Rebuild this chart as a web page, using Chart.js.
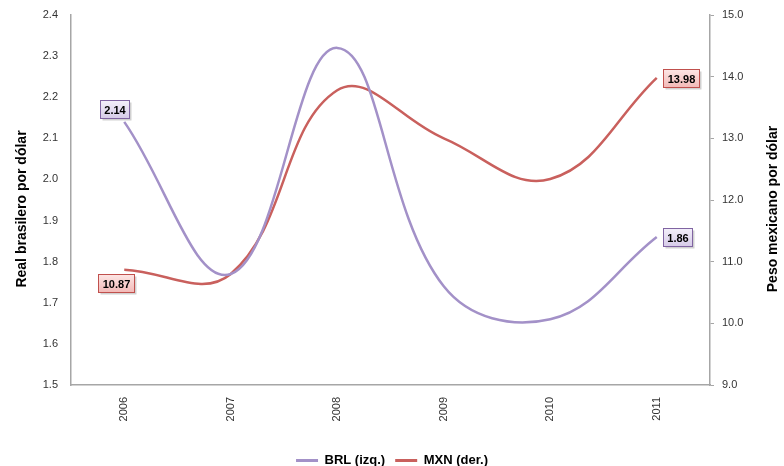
<!DOCTYPE html>
<html>
<head>
<meta charset="utf-8">
<script src="https://cdn.jsdelivr.net/npm/chart.js@4.4.1/dist/chart.umd.min.js"></script>
<style>
  html, body { margin: 0; padding: 0; background: #fff; }
  #wrap { width: 784px; height: 466px; }
</style>
</head>
<body>
<div id="wrap"><canvas id="chart" width="784" height="466"></canvas></div>
<script>
// Data
const years = ['2006', '2007', '2008', '2009', '2010', '2011'];
const brl = [2.14, 1.77, 2.32, 1.74, 1.66, 1.86];
const mxn = [10.87, 10.80, 13.78, 13.00, 12.34, 13.98];
// which points carry a value box, and where it sits
const brlLabelPos = ['above', null, null, null, null, 'right'];
const mxnLabelPos = ['below', null, null, null, null, 'right'];
const leftTitle = 'Real brasilero por dólar';
const rightTitle = 'Peso mexicano por dólar';

const FONT = "'Liberation Sans', Arial, sans-serif";
const PURPLE = '#a391c8';
const RED = '#c9605d';
const AXIS = '#a6a6a6';

// value boxes like the Excel data labels
const valueBoxes = {
  id: 'valueBoxes',
  afterDatasetsDraw(chart) {
    const ctx = chart.ctx;
    chart.data.datasets.forEach((ds, di) => {
      const meta = chart.getDatasetMeta(di);
      ds.labelPos.forEach((pos, i) => {
        if (!pos) return;
        const pt = meta.data[i];
        const txt = ds.data[i].toFixed(2);
        ctx.save();
        ctx.font = 'bold 11px ' + FONT;
        const w = Math.round(ctx.measureText(txt).width) + 8;
        const h = 18;
        let cx, cy;
        if (pos === 'above') { cx = pt.x - 10; cy = pt.y - 13; }
        else if (pos === 'below') { cx = pt.x - 8; cy = pt.y + 13; }
        else { cx = pt.x + 6 + w / 2; cy = pt.y; }
        const x0 = Math.round(cx - w / 2) + 0.5, y0 = Math.round(cy - h / 2) + 0.5;
        // shadow
        ctx.fillStyle = 'rgba(0,0,0,0.18)';
        ctx.fillRect(x0 + 2, y0 + 2, w, h);
        const g = ctx.createLinearGradient(0, y0, 0, y0 + h);
        g.addColorStop(0, ds.boxTop);
        g.addColorStop(1, ds.boxBottom);
        ctx.fillStyle = g;
        ctx.fillRect(x0, y0, w, h);
        ctx.strokeStyle = ds.boxBorder;
        ctx.lineWidth = 1;
        ctx.strokeRect(x0, y0, w, h);
        ctx.fillStyle = '#000';
        ctx.textAlign = 'center';
        ctx.textBaseline = 'middle';
        ctx.fillText(txt, x0 + w / 2, y0 + h / 2 + 1);
        ctx.restore();
      });
    });
  },
  // both axis titles read bottom-to-top, sitting a bit below the middle
  afterDraw(chart) {
    const ctx = chart.ctx;
    const area = chart.chartArea;
    const midY = (area.top + area.bottom) / 2 + 9;
    [[leftTitle, 22], [rightTitle, 773]].forEach(([txt, x]) => {
      ctx.save();
      ctx.translate(x, midY);
      ctx.rotate(-Math.PI / 2);
      ctx.font = 'bold 14px ' + FONT;
      ctx.fillStyle = '#000';
      ctx.textAlign = 'center';
      ctx.textBaseline = 'middle';
      ctx.fillText(txt, 0, 0);
      ctx.restore();
    });
  }
};

const tickFont = { family: FONT, size: 11 };

// fixed axis sizes so the plot area matches the reference
function fixWidth(w) {
  return s => {
    s.width = w;
    s.paddingTop = 0;
    s.paddingBottom = 0;
  };
}

new Chart(document.getElementById('chart'), {
  type: 'line',
  data: {
    labels: years,
    datasets: [
      {
        label: 'BRL (izq.)',
        data: brl,
        yAxisID: 'y',
        borderColor: PURPLE,
        backgroundColor: PURPLE,
        borderWidth: 2.5,
        pointRadius: 0,
        tension: 0.4,
        labelPos: brlLabelPos,
        boxTop: '#f3effa',
        boxBottom: '#d6cbe8',
        boxBorder: '#8064a2',
      },
      {
        label: 'MXN (der.)',
        data: mxn,
        yAxisID: 'y2',
        borderColor: RED,
        backgroundColor: RED,
        borderWidth: 2.5,
        pointRadius: 0,
        tension: 0.4,
        labelPos: mxnLabelPos,
        boxTop: '#fde6e5',
        boxBottom: '#f2b9b7',
        boxBorder: '#c0504d',
      },
    ],
  },
  options: {
    responsive: false,
    animation: false,
    layout: { padding: { top: 15, left: 0, right: 0, bottom: -11 } },
    plugins: {
      legend: {
        position: 'bottom',
        labels: {
          color: '#000',
          font: { family: FONT, size: 13, weight: 'bold' },
          boxWidth: 22,
          boxHeight: 3,
          padding: 10,
          generateLabels(chart) {
            return chart.data.datasets.map((ds, i) => ({
              text: ds.label,
              fillStyle: ds.borderColor,
              strokeStyle: ds.borderColor,
              lineWidth: 0,
              datasetIndex: i,
            }));
          },
        },
      },
      tooltip: { enabled: false },
    },
    scales: {
      x: {
        offset: true,
        grid: { display: false, drawTicks: false },
        border: { display: true, color: AXIS, width: 1.5 },
        ticks: { color: '#333', font: tickFont, minRotation: 90, maxRotation: 90, padding: 12 },
        afterFit: s => { s.height = 59; },
      },
      y: {
        position: 'left',
        min: 1.5, max: 2.4,
        grid: { display: false, drawTicks: false },
        border: { display: true, color: AXIS, width: 1.5 },
        ticks: { stepSize: 0.1, color: '#333', font: tickFont, padding: 13, callback: v => v.toFixed(1) },
        afterFit: fixWidth(71),
      },
      y2: {
        position: 'right',
        min: 9, max: 15,
        grid: { drawOnChartArea: false, drawTicks: true, tickLength: 4, color: AXIS },
        border: { display: true, color: AXIS, width: 1.5 },
        ticks: { stepSize: 1, color: '#333', font: tickFont, padding: 8, callback: v => v.toFixed(1) },
        afterFit: fixWidth(74),
      },
    },
  },
  plugins: [valueBoxes],
});
</script>
</body>
</html>
